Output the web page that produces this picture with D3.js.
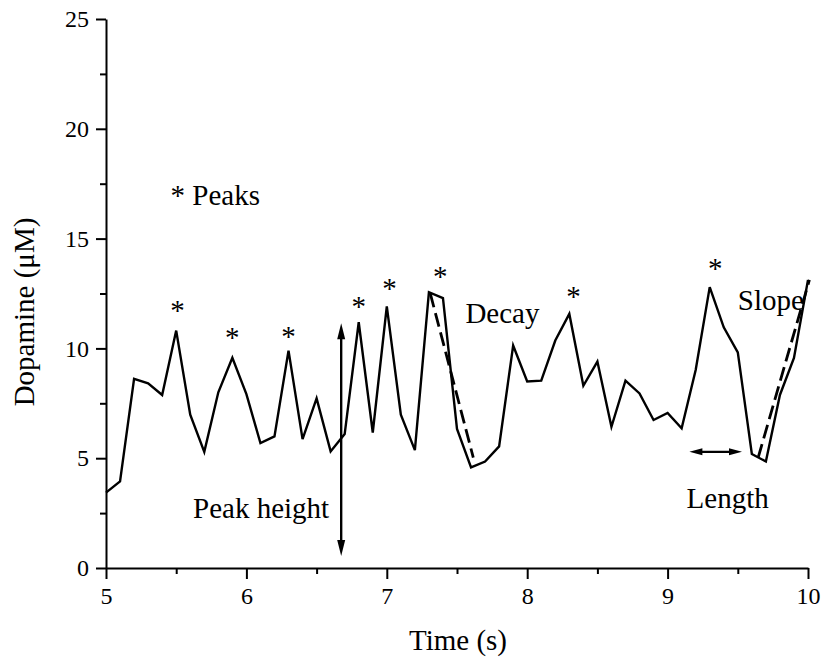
<!DOCTYPE html>
<html>
<head>
<meta charset="utf-8">
<script src="https://cdn.jsdelivr.net/npm/d3@7"></script>
<style>
  body { margin:0; background:#fff; }
  text { font-family: "Liberation Serif", "Times New Roman", serif; fill:#000; }
</style>
</head>
<body>
<script>
// trace, sampled every 0.1 s
var times = [5.0, 5.1, 5.2, 5.3, 5.4, 5.5, 5.6, 5.7, 5.8, 5.9,
             6.0, 6.1, 6.2, 6.3, 6.4, 6.5, 6.6, 6.7, 6.8, 6.9,
             7.0, 7.1, 7.2, 7.3, 7.4, 7.5, 7.6, 7.7, 7.8, 7.9,
             8.0, 8.1, 8.2, 8.3, 8.4, 8.5, 8.6, 8.7, 8.8, 8.9,
             9.0, 9.1, 9.2, 9.3, 9.4, 9.5, 9.6, 9.7, 9.8, 9.9, 10.0];
var dopamine = [3.43, 3.94, 8.61, 8.41, 7.88, 10.81, 6.98, 5.29, 8.0, 9.57,
                7.92, 5.69, 5.99, 9.90, 5.87, 7.72, 5.31, 6.10, 11.19, 6.17,
                11.91, 6.98, 5.37, 12.56, 12.29, 6.33, 4.58, 4.85, 5.54, 10.13,
                8.49, 8.53, 10.36, 11.57, 8.30, 9.40, 6.43, 8.53, 7.95, 6.74,
                7.06, 6.36, 9.02, 12.79, 10.96, 9.82, 5.19, 4.85, 7.88, 9.57, 13.12];

// peak markers
var starT = [5.51, 5.90, 6.30, 6.80, 7.02, 7.38, 8.33, 9.34];
var starV = [11.95, 10.69, 10.73, 12.10, 12.94, 13.47, 12.56, 13.85];

// dashed fits
var decayFit = [[7.31, 12.49], [7.616, 5.03]];
var slopeFit = [[9.645, 5.03], [10.01, 13.12]];

// arrows
var peakArrow = [[6.675, 0.55], [6.675, 11.15]];
var lengthArrow = [[9.155, 5.29], [9.53, 5.29]];

// labels
var notes = [
  {text: "* Peaks", t: 5.46, v: 16.55},
  {text: "Peak height", t: 5.62, v: 2.27},
  {text: "Decay", t: 7.56, v: 11.15},
  {text: "Slope", t: 9.50, v: 11.77},
  {text: "Length", t: 9.135, v: 2.74}
];

var xTicks = [5, 6, 7, 8, 9, 10];
var xMinor = [5.5, 6.5, 7.5, 8.5, 9.5];
var yTicks = [0, 5, 10, 15, 20, 25];
var yMinor = [2.5, 7.5, 12.5, 17.5, 22.5];

var width = 823, height = 661;
var serif = "'Liberation Serif', 'Times New Roman', serif";

var svg = d3.select("body").append("svg")
  .attr("width", width)
  .attr("height", height);

var x = d3.scaleLinear().domain([5, 10]).range([106, 808]);
var y = d3.scaleLinear().domain([0, 25]).range([568, 19]);

// axes
var gx = svg.append("g").attr("transform", "translate(0," + y(0) + ")");
gx.call(d3.axisBottom(x).tickValues(xTicks).tickFormat(d3.format("d"))
  .tickSize(11).tickSizeOuter(0).tickPadding(8));
svg.append("g").attr("transform", "translate(0," + y(0) + ")")
  .call(d3.axisBottom(x).tickValues(xMinor).tickSize(6).tickSizeOuter(0).tickFormat(""))
  .select(".domain").remove();

var gy = svg.append("g").attr("transform", "translate(" + x(5) + ",0)");
gy.call(d3.axisLeft(y).tickValues(yTicks).tickFormat(d3.format("d"))
  .tickSize(10).tickSizeOuter(0).tickPadding(7));
svg.append("g").attr("transform", "translate(" + x(5) + ",0)")
  .call(d3.axisLeft(y).tickValues(yMinor).tickSize(6).tickSizeOuter(0).tickFormat(""))
  .select(".domain").remove();

gx.attr("font-family", serif);
gy.attr("font-family", serif);
svg.selectAll(".domain, .tick line").attr("stroke", "#000").attr("stroke-width", 2);
svg.selectAll(".tick text").attr("font-size", 24).style("font-size", "24px")
  .style("font-family", serif);

// axis titles
svg.append("text")
  .attr("x", 458).attr("y", 650)
  .attr("text-anchor", "middle")
  .style("font-size", "29px")
  .text("Time (s)");

svg.append("text")
  .attr("transform", "translate(34,312) rotate(-90)")
  .attr("text-anchor", "middle")
  .style("font-size", "29px")
  .text("Dopamine (\u03BCM)");

// trace
var line = d3.line()
  .x(function(d, i) { return x(times[i]); })
  .y(function(d) { return y(d); });

svg.append("path")
  .datum(dopamine)
  .attr("d", line)
  .attr("fill", "none")
  .attr("stroke", "#000")
  .attr("stroke-width", 2.4)
  .attr("stroke-linejoin", "miter");

// dashed fits
var fitLine = d3.line()
  .x(function(d) { return x(d[0]); })
  .y(function(d) { return y(d[1]); });

[decayFit, slopeFit].forEach(function(f) {
  svg.append("path")
    .attr("d", fitLine(f))
    .attr("fill", "none")
    .attr("stroke", "#000")
    .attr("stroke-width", 2.8)
    .attr("stroke-dasharray", "14,6");
});

// asterisks
svg.selectAll(".star")
  .data(starT)
  .enter().append("text")
  .attr("class", "star")
  .attr("x", function(d) { return x(d); })
  .attr("y", function(d, i) { return y(starV[i]) + 14; })
  .attr("text-anchor", "middle")
  .style("font-size", "29px")
  .text("*");

// double arrows
function arrow(p, headLen, headW) {
  var x1 = x(p[0][0]), y1 = y(p[0][1]), x2 = x(p[1][0]), y2 = y(p[1][1]);
  var dx = x2 - x1, dy = y2 - y1, len = Math.sqrt(dx * dx + dy * dy);
  var ux = dx / len, uy = dy / len;
  svg.append("line")
    .attr("x1", x1 + ux * headLen * 0.5).attr("y1", y1 + uy * headLen * 0.5)
    .attr("x2", x2 - ux * headLen * 0.5).attr("y2", y2 - uy * headLen * 0.5)
    .attr("stroke", "#000").attr("stroke-width", 2.4);
  [[x1, y1, 1], [x2, y2, -1]].forEach(function(e) {
    var bx = e[0] + e[2] * ux * headLen, by = e[1] + e[2] * uy * headLen;
    var pts = [[e[0], e[1]],
               [bx - uy * headW / 2, by + ux * headW / 2],
               [bx + uy * headW / 2, by - ux * headW / 2]];
    svg.append("polygon")
      .attr("points", pts.map(function(q) { return q.join(","); }).join(" "))
      .attr("fill", "#000");
  });
}
arrow(peakArrow, 16, 8);
arrow(lengthArrow, 13, 7);

// text notes
svg.selectAll(".note")
  .data(notes)
  .enter().append("text")
  .attr("class", "note")
  .attr("x", function(d) { return x(d.t); })
  .attr("y", function(d) { return y(d.v); })
  .style("font-size", "29px")
  .text(function(d) { return d.text; });
</script>
</body>
</html>
